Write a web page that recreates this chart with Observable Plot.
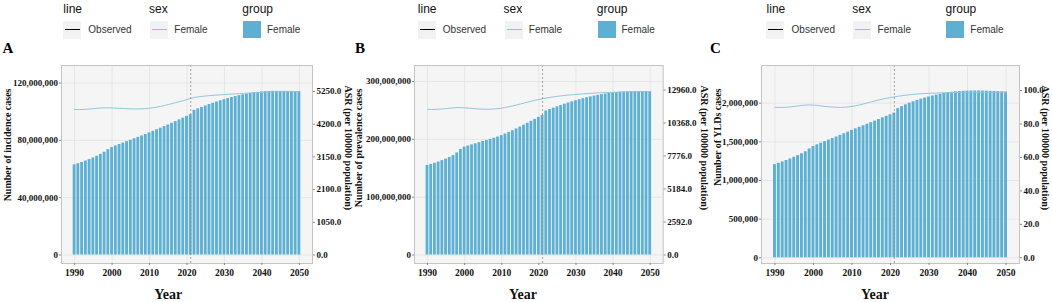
<!DOCTYPE html>
<html><head><meta charset="utf-8">
<script src="https://cdn.jsdelivr.net/npm/d3@7"></script>
<script src="https://cdn.jsdelivr.net/npm/@observablehq/plot@0.6"></script>
<style>
body{margin:0;background:#fff;}
#wrap{position:relative;width:1052px;height:302px;overflow:hidden;background:#fff;}
.pl{position:absolute;top:44px;}
.pl svg{overflow:visible;}
.lg{position:absolute;font-family:"Liberation Sans",Arial,sans-serif;white-space:nowrap;}
.lt{font-size:12px;line-height:12px;color:#111;}
.ll{font-size:10px;line-height:10px;color:#333;}
.key{position:absolute;width:18px;height:18px;background:#f2f2f2;}
.letter{position:absolute;font-family:"Liberation Serif","Times New Roman",serif;font-weight:bold;font-size:15px;line-height:15px;color:#000;}
</style></head><body><div id="wrap"></div>
<script>
// ---------------- data ----------------
const years = [1990,1991,1992,1993,1994,1995,1996,1997,1998,1999,
  2000,2001,2002,2003,2004,2005,2006,2007,2008,2009,
  2010,2011,2012,2013,2014,2015,2016,2017,2018,2019,
  2020,2021,2022,2023,2024,2025,2026,2027,2028,2029,
  2030,2031,2032,2033,2034,2035,2036,2037,2038,2039,
  2040,2041,2042,2043,2044,2045,2046,2047,2048,2049,2050];

// A: incidence cases (millions) and ASR per 100000
const incidenceCasesM = [62.9,63.7,64.6,65.6,66.6,67.7,68.9,70.2,71.7,73.5,
  75.0,76.1,77.1,78.1,79.1,80.1,81.1,82.1,83.1,84.1,
  85.2,86.3,87.4,88.5,89.6,90.7,91.9,93.1,94.3,95.5,
  96.7,97.9,101.0,102.0,103.0,104.0,105.0,105.9,106.8,107.6,
  108.4,109.2,109.9,110.6,111.2,111.8,112.3,112.8,113.2,113.5,
  113.8,114.0,114.1,114.2,114.2,114.2,114.2,114.2,114.2,114.1,114.1];
const incidenceASR = [4672,4670,4672,4678,4688,4700,4712,4721,4726,4726,
  4722,4716,4709,4703,4698,4694,4692,4692,4695,4702,
  4714,4730,4750,4774,4800,4830,4862,4895,4925,4955,
  4995,5030,5060,5078,5093,5106,5117,5127,5136,5144,
  5152,5160,5168,5175,5182,5189,5196,5203,5210,5216,
  5222,5227,5231,5235,5238,5241,5243,5245,5247,5248,5250];

// B: prevalence cases (millions) and ASR
const prevalenceCasesM = [154.8,156.6,158.6,160.8,163.2,165.8,168.7,172.0,176.5,182.5,
  186.5,188.5,190.5,192.4,194.3,196.2,198.1,200.0,202.0,204.0,
  206.5,209.2,212.0,215.0,218.0,221.2,224.5,227.8,231.2,234.6,
  238.0,241.5,249.0,251.5,253.9,256.3,258.6,260.8,262.9,264.9,
  266.8,268.6,270.3,271.9,273.4,274.8,276.1,277.3,278.4,279.4,
  280.3,281.0,281.6,282.1,282.4,282.6,282.7,282.7,282.7,282.6,282.5];
const prevalenceASR = [11440,11435,11440,11455,11475,11500,11530,11560,11580,11575,
  11560,11540,11515,11490,11470,11455,11450,11455,11470,11500,
  11540,11590,11650,11715,11785,11860,11935,12010,12085,12155,
  12215,12270,12330,12380,12425,12465,12500,12535,12565,12590,
  12615,12638,12660,12680,12698,12715,12730,12745,12758,12770,
  12780,12790,12798,12805,12812,12818,12823,12828,12832,12836,12840];

// C: YLDs (thousands) and ASR
const yldCasesK = [1205,1222,1240,1259,1279,1300,1322,1346,1372,1408,
  1440,1462,1483,1503,1523,1543,1563,1584,1605,1626,
  1648,1668,1688,1708,1728,1748,1768,1789,1810,1830,
  1850,1872,1930,1955,1978,2000,2018,2036,2052,2067,
  2080,2093,2105,2116,2126,2134,2141,2147,2151,2154,
  2156,2158,2158,2158,2157,2156,2154,2152,2150,2147,2144];
const yldASR = [90.0,89.9,89.9,90.0,90.2,90.5,90.8,91.1,91.3,91.4,
  91.3,91.1,90.8,90.5,90.3,90.1,90.0,89.9,90.0,90.2,
  90.5,90.9,91.4,92.0,92.6,93.2,93.8,94.4,94.9,95.4,
  95.8,96.2,96.6,96.9,97.2,97.5,97.7,97.9,98.1,98.2,
  98.3,98.4,98.5,98.6,98.7,98.8,98.8,98.9,98.9,99.0,
  99.0,99.0,99.0,99.0,99.0,99.0,99.0,99.0,99.0,99.0,99.0];

// tick labels
const xTicks = [1990,2000,2010,2020,2030,2040,2050];
const incidenceTicks = [0,40000000,80000000,120000000];
const incidenceASRTicks = [0,1050,2100,3150,4200,5250];
const prevalenceTicks = [0,100000000,200000000,300000000];
const prevalenceASRTicks = [0,2592,5184,7776,10368,12960];
const yldTicks = [0,500000,1000000,1500000,2000000];
const yldASRTicks = [0,20,40,60,80,100];
const projectionStart = 2021;

// secondary-axis factors (cases per ASR unit)
const incidenceFactor = 21733;
const prevalenceFactor = 22014;
const yldFactor = 21640;

// legend content
const legendGroups = [
  {title:"line", label:"Observed", kind:"line", color:"#000000"},
  {title:"sex", label:"Female", kind:"line", color:"#8fc3d8"},
  {title:"group", label:"Female", kind:"fill", color:"#5eb0d3"}
];

// ---------------- styles / layout ----------------
const BAR = "#5eb0d3", LINE = "#93c6da";
const SERIF = "'Liberation Serif','Times New Roman',serif";

const panels = [
  {letter:"A", cases: incidenceCasesM.map(v => v*1e6), asr: incidenceASR, k: incidenceFactor,
   leftTicks: incidenceTicks, rightTicks: incidenceASRTicks, leftFmt: d3.format(","),
   yDomain:[-5.93e6, 132.24e6], leftTitle:"Number of incidence cases",
   svgLeft:0, svgWidth:352, frameL:61, frameR:312, leftTitleX:7.5, rightTitleX:348, yearX:167.7,
   legendDX:0, letterX:2.5},
  {letter:"B", cases: prevalenceCasesM.map(v => v*1e6), asr: prevalenceASR, k: prevalenceFactor,
   leftTicks: prevalenceTicks, rightTicks: prevalenceASRTicks, leftFmt: d3.format(","),
   yDomain:[-14.7e6, 327.7e6], leftTitle:"Number of prevalence cases",
   svgLeft:352, svgWidth:356, frameL:414, frameR:662.7, leftTitleX:358.3, rightTitleX:703.5, yearX:522.5,
   legendDX:354.5, letterX:355},
  {letter:"C", cases: yldCasesK.map(v => v*1e3), asr: yldASR, k: yldFactor,
   leftTicks: yldTicks, rightTicks: yldASRTicks, leftFmt: d3.format(","),
   yDomain:[-73.7e3, 2487.7e3], leftTitle:"Number of YLDs cases",
   svgLeft:708, svgWidth:344, frameL:761, frameR:1019, leftTitleX:717, rightTitleX:1045, yearX:874.5,
   legendDX:703.3, letterX:710}
];

const wrap = document.getElementById("wrap");
const TOP = 44, H = 258, FRAME_TOP = 65, FRAME_BOTTOM = 263;

for (const p of panels) {
  const rows = years.map((year, i) => ({year, cases: p.cases[i], asr: p.asr[i]}));
  const mL = p.frameL - p.svgLeft;
  const mR = p.svgLeft + p.svgWidth - p.frameR;
  const frameCenter = (p.frameL + p.frameR) / 2;
  const chart = Plot.plot({
    width: p.svgWidth, height: H,
    marginTop: FRAME_TOP - TOP, marginBottom: TOP + H - FRAME_BOTTOM,
    marginLeft: mL, marginRight: mR,
    x: {domain: [1986.5, 2053.5]},
    y: {domain: p.yDomain},
    style: {fontFamily: SERIF, fontSize: "9px", fontWeight: "bold", color: "#111", background: "transparent", overflow: "visible"},
    marks: [
      Plot.frame({fill: "#f5f5f5", stroke: "none"}),
      Plot.gridX(xTicks, {stroke: "#e2e2e2", strokeOpacity: 1, strokeWidth: 0.8}),
      Plot.gridY(p.leftTicks, {stroke: "#e2e2e2", strokeOpacity: 1, strokeWidth: 0.8}),
      Plot.rectY(rows, {x1: d => d.year - 0.38, x2: d => d.year + 0.38, y1: 0, y2: "cases", fill: BAR}),
      Plot.line(rows, {x: "year", y: d => d.asr * p.k, stroke: LINE, strokeWidth: 1}),
      Plot.ruleX([projectionStart], {stroke: "#8c8c8c", strokeDasharray: "2,2", strokeWidth: 0.8}),
      Plot.frame({stroke: "#c4c4c4", strokeWidth: 1}),
      Plot.axisX(xTicks, {tickSize: 2, tickPadding: 4, tickFormat: d => String(d), label: null, stroke: "#888", fill: "#111", fontSize: 9.5}),
      Plot.axisY(p.leftTicks, {anchor: "left", tickSize: 2, tickPadding: 1.5, tickFormat: p.leftFmt, label: null, stroke: "#888", fill: "#111", fontSize: 9}),
      Plot.axisY(p.rightTicks.map(v => v * p.k), {anchor: "right", tickSize: 2, tickPadding: 2,
        tickFormat: d => (d / p.k).toFixed(1), label: null, stroke: "#888", fill: "#111", fontSize: 9}),
      Plot.text([p.leftTitle], {text: d => d, frameAnchor: "top-left", dx: p.leftTitleX - p.frameL, dy: 88 - FRAME_TOP,
        rotate: -90, textAnchor: "end", lineAnchor: "middle", fontSize: 10, fontWeight: "bold", fill: "#111"}),
      Plot.text(["ASR (per 100000 population)"], {text: d => d, frameAnchor: "top-right", dx: p.rightTitleX - p.frameR, dy: 85 - FRAME_TOP,
        rotate: 90, textAnchor: "start", lineAnchor: "middle", fontSize: 10, fontWeight: "bold", fill: "#111"}),
      Plot.text(["Year"], {text: d => d, frameAnchor: "bottom", dx: p.yearX - frameCenter, dy: 31.5,
        lineAnchor: "middle", fontSize: 14, fontWeight: "bold", fill: "#111"})
    ]
  });
  const holder = document.createElement("div");
  holder.className = "pl";
  holder.style.left = p.svgLeft + "px";
  holder.appendChild(chart);
  wrap.appendChild(holder);

  // panel letter
  const L = document.createElement("div");
  L.className = "letter";
  L.style.left = p.letterX + "px";
  L.style.top = "40.7px";
  L.textContent = p.letter;
  wrap.appendChild(L);

  // legend
  const base = p.legendDX;
  const titleXs = [63.3, 149, 242.3];
  const keyXs = [63, 150, 243];
  const labelXs = [88.3, 174.3, 267];
  legendGroups.forEach((g, i) => {
    const t = document.createElement("div");
    t.className = "lg lt";
    t.style.left = (base + titleXs[i]) + "px";
    t.style.top = "2.9px";
    t.textContent = g.title;
    wrap.appendChild(t);
    const key = document.createElement("div");
    key.className = "key";
    key.style.left = (base + keyXs[i]) + "px";
    key.style.top = "20.5px";
    if (g.kind === "fill") {
      key.style.background = g.color;
      key.style.height = "17px";
    } else {
      const ln = document.createElement("div");
      ln.style.position = "absolute";
      ln.style.left = "2px"; ln.style.width = "15px";
      ln.style.top = "8.3px";
      ln.style.height = g.color === "#000000" ? "1.4px" : "1.3px";
      ln.style.background = g.color;
      key.appendChild(ln);
    }
    wrap.appendChild(key);
    const lab = document.createElement("div");
    lab.className = "lg ll";
    lab.style.left = (base + labelXs[i]) + "px";
    lab.style.top = "24.5px";
    lab.textContent = g.label;
    wrap.appendChild(lab);
  });
}
</script></body></html>
